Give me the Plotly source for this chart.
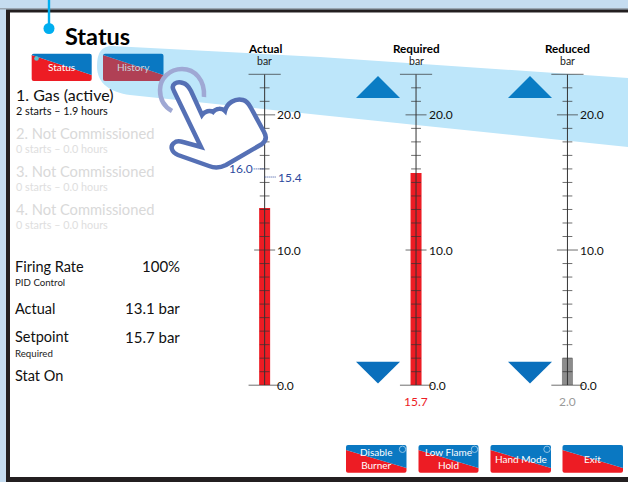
import re
import plotly.graph_objects as go

# ---------- data ----------
columns = ["Actual", "Required", "Reduced"]
column_units = ["bar", "bar", "bar"]
bar_values = [13.1, 15.7, 2.0]
bar_colors = ["#ed1c24", "#ed1c24", "#8c8c8c"]
value_labels = ["", "15.7", "2.0"]
value_label_colors = ["#ed1c24", "#ed1c24", "#9a9a9a"]
tick_values = list(range(0, 24))
major_ticks = [10, 20]
end_ticks = [0, 23]
labelled_ticks = [0.0, 10.0, 20.0]
upper_marker = 16.0
lower_marker = 15.4

fuel_lines = ["1. Gas (active)", "2. Not Commissioned", "3. Not Commissioned", "4. Not Commissioned"]
fuel_details = ["2 starts – 1.9 hours", "0 starts – 0.0 hours", "0 starts – 0.0 hours", "0 starts – 0.0 hours"]
readouts = ["Firing Rate", "Actual", "Setpoint", "Stat On"]
readout_values = ["100%", "13.1 bar", "15.7 bar", ""]
readout_notes = ["PID Control", "", "Required", ""]
tab_labels = ["Status", "History"]
action_labels = ["Disable<br>Burner", "Low Flame<br>Hold", "Hand Mode", "Exit"]

# ---------- page geometry helpers ----------
W, H = 628, 482
def X(x): return x / W
def Y(y): return 1 - y / H

def path(s):
    toks = re.findall(r"[A-Za-z]|-?\d+\.?\d*", s)
    out, is_x = [], True
    for t in toks:
        if t.isalpha():
            out.append(t); is_x = True
        else:
            v = float(t)
            out.append(f"{X(v):.5f}" if is_x else f"{Y(v):.5f}")
            is_x = not is_x
    return " ".join(out)

shapes, ann = [], []
def add_path(s, fill=None, line=None, lw=0, layer="below"):
    shapes.append(dict(type="path", xref="paper", yref="paper", path=path(s), layer=layer,
                       fillcolor=fill or "rgba(0,0,0,0)",
                       line=dict(color=line or "rgba(0,0,0,0)", width=lw)))
def add_rect(x0, y0, x1, y1, fill, layer="below"):
    shapes.append(dict(type="rect", xref="paper", yref="paper", x0=X(x0), x1=X(x1), y0=Y(y0), y1=Y(y1),
                       fillcolor=fill, line=dict(width=0), layer=layer))
def add_circle(cx, cy, r, fill=None, line=None, lw=0, layer="above"):
    shapes.append(dict(type="circle", xref="paper", yref="paper", x0=X(cx-r), x1=X(cx+r), y0=Y(cy+r), y1=Y(cy-r),
                       fillcolor=fill or "rgba(0,0,0,0)", layer=layer,
                       line=dict(color=line or "rgba(0,0,0,0)", width=lw)))
FONT = "Lato"
def text(x, y, s, size, color="#111", anchor="left", bold=False):
    ann.append(dict(xref="paper", yref="paper", x=X(x), y=Y(y), text=f"<b>{s}</b>" if bold else s,
                    showarrow=False, xanchor=anchor, yanchor="middle",
                    font=dict(family=FONT, size=size, color=color), borderpad=0, borderwidth=0))

# ---------- frame ----------
add_rect(0, 8, W, 9.5, "#9aa6b2")
add_rect(6, 9.5, W, H, "#231f20")
add_rect(10, 12.5, W, 477, "#ffffff")

# ---------- swoosh ----------
add_path("M 112 46 L 320 57 L 628 78 L 628 147 L 320 115 L 130 95 C 110 92 97 84 97 66 C 97 52 102 46 112 46 Z",
         fill="#bde6fa")

# ---------- callout ----------
add_rect(47.8, 0, 50.2, 28, "#00aeef")
add_circle(49, 28.5, 5.5, fill="#00aeef", layer="below")

# ---------- buttons ----------
BLUE, RED = "#0a78c2", "#ed1c24"
def button(x0, x1, y0, y1, yl, yr, label, red=RED, blue=BLUE, tcolor="#ffffff", size=10):
    r = 2
    add_path(f"M {x0} {yl} L {x1} {yr} L {x1} {y1-r} Q {x1} {y1} {x1-r} {y1} L {x0+r} {y1} Q {x0} {y1} {x0} {y1-r} Z", fill=red, layer="above")
    add_path(f"M {x0} {yl} L {x0} {y0+r} Q {x0} {y0} {x0+r} {y0} L {x1-r} {y0} Q {x1} {y0} {x1} {y0+r} L {x1} {yr} Z", fill=blue, layer="above")
    text((x0+x1)/2, (y0+y1)/2, label, size, tcolor, "center")

button(31.7, 91.7, 53.7, 81, 55, 75, tab_labels[0])
add_circle(36.5, 58.5, 2.3, fill="#5cc3cf")
button(103, 163.5, 53.7, 81, 55, 75, tab_labels[1], red="#b04055", tcolor="#c9d4dc")
for (x0, x1), lab, clock in zip([(346, 406.5), (418.5, 478.5), (490.5, 551), (562.5, 623)], action_labels, [1, 1, 1, 0]):
    button(x0, x1, 445, 472.7, 450, 468, lab)
    if clock:
        add_circle(x1 - 4, 449.3, 3.2, line="#8fc3e6", lw=1)

# ---------- arrows ----------
for cx in (378, 530):
    add_path(f"M {cx} 76 L {cx+22} 98 L {cx-22} 98 Z", fill="#0a7cc4", layer="above")
    add_path(f"M {cx-22} 361.7 L {cx+22} 361.7 L {cx} 383.5 Z", fill="#0a6fbc", layer="above")

# ---------- hand ----------
add_path("M 172 111 C 163 106 160 98 160 90 C 160 78 170 69 182 69 C 195 69 205 80 204 97",
         line="#9fa8d4", lw=4.5, layer="above")
add_path("M 174 91 C 170 84 177 81 183 83 C 187 84 189 87 191 91 L 202 115 C 205 111 210 110 213 112 "
         "C 216 108 222 108 225 111 C 227 103 235 98 243 100 C 247 101 249 104 251 108 L 264 132 "
         "C 267 137 266 141 262 144 L 226 165 C 220 168 214 168 209 166 L 178 155 C 171 152 170 146 174 143 "
         "C 176 141 180 141 183 142 L 201 147 Z",
         fill="#ffffff", line="#5570b5", lw=4.5, layer="above")

# ---------- left panel ----------
text(65, 36.5, "Status", 23.5, "#000", bold=True)
for i, (a, b) in enumerate(zip(fuel_lines, fuel_details)):
    c1, c2 = ("#111", "#111") if i == 0 else ("#d9d9d9", "#dedede")
    text(15.5, 95 + 38 * i, a, 16 if i == 0 else 14.7, c1)
    text(15.5, 110.5 + 38 * i, b, 10.8, c2)
for y, a, b, n in zip([266, 308, 336.5, 375], readouts, readout_values, readout_notes):
    text(15, y, a, 14.5)
    if b:
        text(179.5, y, b, 15, anchor="right")
    if n:
        text(15, y + 16, n, 9.7, "#222")

# ---------- gauges ----------
ann_data = []
def gauge_note(x, y, s, size, color, yref="paper", anchor="center", shift=0):
    ann_data.append(dict(x=x, y=y, xref="x", yref=yref, text=s, showarrow=False, xanchor=anchor, yanchor="middle",
                         xshift=shift, borderpad=0, font=dict(family=FONT, size=size, color=color)))

for i, (c, u, lab, lc) in enumerate(zip(columns, column_units, value_labels, value_label_colors)):
    gauge_note(i, Y(48), f"<b>{c}</b>", 11.7, "#000")
    gauge_note(i, Y(61), u, 10.5, "#222")
    if lab:
        gauge_note(i, Y(401), lab, 12, lc)
    for t in labelled_ticks:
        gauge_note(i, t, f"{t:.1f}", 12, "#111", yref="y", anchor="left", shift=11.5)

BLUE_TXT = "#2e4a9e"
gauge_note(0, upper_marker, f"{upper_marker:.1f}", 12, BLUE_TXT, yref="y", anchor="right", shift=-11)
gauge_note(0, lower_marker, f"{lower_marker:.1f}", 12, BLUE_TXT, yref="y", anchor="left", shift=12)

fig = go.Figure()
xs = list(range(len(columns)))
fig.add_bar(x=xs, y=bar_values, width=11 / 151.5, marker=dict(color=bar_colors, line=dict(width=0)), hoverinfo="skip")
sizes = [23 if t in end_ticks else 15 if t in major_ticks else 7 for t in tick_values]
for i in xs:
    fig.add_scatter(x=[i, i], y=[end_ticks[0], end_ticks[1]], mode="lines", line=dict(color="#333", width=1), hoverinfo="skip")
    fig.add_scatter(x=[i] * len(tick_values), y=tick_values, mode="markers", cliponaxis=False, hoverinfo="skip",
                    marker=dict(symbol="line-ew", size=sizes, color="#333", line=dict(color="#333", width=1)))
fig.add_scatter(x=[-11 / 151.5, 0], y=[upper_marker] * 2, mode="lines", line=dict(color=BLUE_TXT, width=1, dash="1px,1px"), hoverinfo="skip")
fig.add_scatter(x=[0, 11 / 151.5], y=[lower_marker] * 2, mode="lines", line=dict(color=BLUE_TXT, width=1, dash="1px,1px"), hoverinfo="skip")

fig.update_layout(
    width=W, height=H, margin=dict(l=0, r=0, t=0, b=0), showlegend=False,
    paper_bgcolor="#c5dcf0", plot_bgcolor="rgba(0,0,0,0)",
    xaxis=dict(domain=[X(264.7 - 75.75), 1], range=[-0.5, 2.4], visible=False, fixedrange=True),
    yaxis=dict(domain=[Y(385.2), Y(74.3)], range=[0, 23], visible=False, fixedrange=True),
    shapes=shapes, annotations=ann + ann_data,
)
fig.write_html("out.html", config=dict(displayModeBar=False),
               post_script="document.body.style.margin='0';document.body.style.overflow='hidden';")
